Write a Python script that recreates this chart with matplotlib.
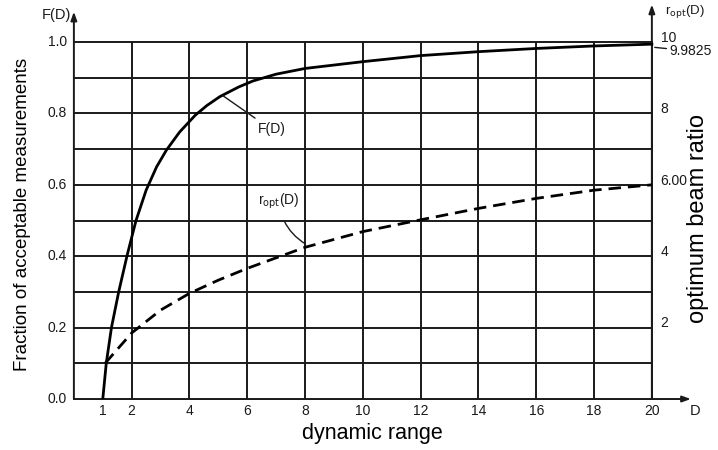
import matplotlib
matplotlib.use("Agg")
import matplotlib.pyplot as plt

# F(D): fraction of acceptable measurements vs dynamic range
d_frac = [1.0, 1.12, 1.3, 1.55, 1.85, 2.15, 2.5, 2.86, 3.2, 3.66, 4.2, 4.6,
          5.05, 5.7, 6.2, 7.0, 8.0, 10.0, 12.0, 14.0, 16.0, 18.0, 20.0]
f_frac = [0.0, 0.1, 0.2, 0.3, 0.405, 0.5, 0.585, 0.65, 0.697, 0.748, 0.795, 0.822,
          0.847, 0.874, 0.891, 0.91, 0.926, 0.945, 0.962, 0.973, 0.982, 0.989, 0.994]

# r_opt(D): optimum beam ratio (right axis, 0..10)
d_ratio = [1.08, 2.0, 3.0, 4.0, 5.0, 6.0, 8.0, 10.0, 12.0, 14.0, 16.0, 18.0, 20.0]
r_ratio = [1.0, 1.85, 2.49, 2.96, 3.33, 3.66, 4.25, 4.69, 5.02, 5.34, 5.62, 5.85, 6.00]

x_ticks = [1, 2, 4, 6, 8, 10, 12, 14, 16, 18, 20]
x_grid = [2, 4, 6, 8, 10, 12, 14, 16, 18, 20]
y_grid = [0.1, 0.2, 0.3, 0.4, 0.5, 0.6, 0.7, 0.8, 0.9, 1.0]
left_ticks = [0.0, 0.2, 0.4, 0.6, 0.8, 1.0]
left_labels = ["0.0", "0.2", "0.4", "0.6", "0.8", "1.0"]
right_ticks = [2, 4, 6, 8, 10]
right_labels = ["2", "4", "6.00", "8", "10"]

R_SCALE = 10.0
INK = "#1a1a1a"
plt.rcParams["font.family"] = ["Liberation Sans", "DejaVu Sans"]

fig = plt.figure(figsize=(7.18, 4.5), dpi=100)
ax = fig.add_axes([0.1029, 0.1133, 0.8694, 0.8885])
ax.set_xlim(0, 21.6)
ax.set_ylim(0, 1.12)
for s in ax.spines.values():
    s.set_visible(False)
ax.set_xticks([])
ax.set_yticks([])

# grid
for g in y_grid:
    ax.plot([0, 20], [g, g], color=INK, lw=1.4, zorder=1)
for g in x_grid:
    ax.plot([g, g], [0, 1.0], color=INK, lw=1.4, zorder=1)

# axes with arrows
arrow = dict(arrowstyle="-|>,head_length=0.5,head_width=0.18", color=INK, lw=1.4,
             shrinkA=0, shrinkB=0)
ax.annotate("", xy=(21.35, 0), xytext=(0, 0), arrowprops=arrow)
ax.annotate("", xy=(0, 1.085), xytext=(0, 0), arrowprops=arrow)
ax.annotate("", xy=(20, 1.105), xytext=(20, 0), arrowprops=arrow)

# curves
ax.plot(d_frac, f_frac, color="black", lw=2.0, zorder=3)
ax.plot(d_ratio, [r / R_SCALE for r in r_ratio], color="black", lw=2.0,
        dashes=(4.5, 2.5), zorder=3)

# tick labels
tick_font = dict(fontsize=10, color=INK)
for t in x_ticks:
    ax.text(t, -0.034, str(t), ha="center", va="center", **tick_font)
for t, lab in zip(left_ticks, left_labels):
    ax.text(-0.25, t, lab, ha="right", va="center", **tick_font)
for t, lab in zip(right_ticks, right_labels):
    ax.text(20.3, t / R_SCALE + 0.012, lab, ha="left", va="center", **tick_font)

ax.text(-0.1, 1.075, "F(D)", ha="right", va="center", fontsize=10.5, color=INK)
ax.text(20.45, 1.085, r"r$_{\rm opt}$(D)", ha="left", va="center", fontsize=9.5, color=INK)
ax.text(21.5, -0.034, "D", ha="center", va="center", fontsize=10.5, color=INK)

# value at D = 20
ax.annotate("9.9825", xy=(20.1, 0.985), xytext=(20.6, 0.975), ha="left", va="center",
            fontsize=10, color=INK,
            arrowprops=dict(arrowstyle="-", color=INK, lw=1.0, shrinkA=0, shrinkB=0))

# curve labels with leader lines
ax.annotate("F(D)", xy=(5.15, 0.85), xytext=(6.35, 0.755), ha="left", va="center",
            fontsize=10, color=INK,
            arrowprops=dict(arrowstyle="-", color=INK, lw=1.0, shrinkA=2, shrinkB=0))
ax.annotate(r"r$_{\rm opt}$(D)", xy=(8.0, 0.435), xytext=(7.1, 0.555), ha="center",
            va="center", fontsize=10, color=INK,
            arrowprops=dict(arrowstyle="-", color=INK, lw=1.0, shrinkA=6, shrinkB=0,
                            connectionstyle="arc3,rad=0.25"))

# axis titles
fig.text(0.031, 0.524, "Fraction of acceptable measurements", rotation=90,
         ha="center", va="center", fontsize=13.5, color="black")
fig.text(0.518, 0.036, "dynamic range", ha="center", va="center", fontsize=15.5,
         color="black")
fig.text(0.972, 0.515, "optimum beam ratio", rotation=90, ha="center", va="center",
         fontsize=17, color="black")

fig.savefig("out.png", dpi=100)
